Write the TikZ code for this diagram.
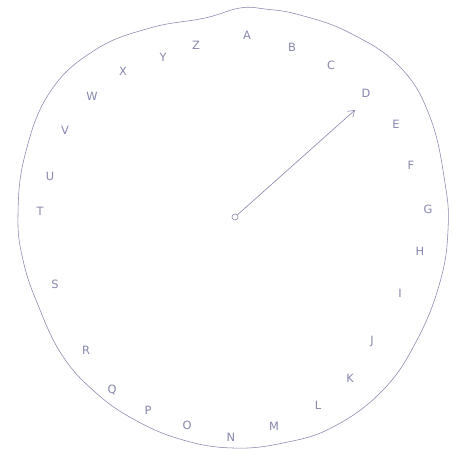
\documentclass[tikz,border=0pt]{standalone}
\usepackage{fontspec}
\setmainfont{DejaVu Sans}[Scale=0.95]
\usetikzlibrary{arrows.meta}
\definecolor{pencil}{RGB}{135,135,175}
\tikzset{
  letter/.style={text=pencil, font=\fontsize{12}{12}\selectfont, inner sep=0pt},
  rim/.style={draw=pencil, line width=0.55pt},
  pointer/.style={draw=pencil, line width=0.6pt, -{Straight Barb[length=6pt,width=8pt]}}
}
\begin{document}
\begin{tikzpicture}[x=1pt,y=-1pt]
\useasboundingbox (0,0) rectangle (470,465);
\fill[white] (0,0) rectangle (470,465);
\draw[rim] plot[smooth cycle, tension=0.7] coordinates {
 (240,8) (265,9) (300,15) (350,33) (400,67) (430,117) (445,183)
 (448,230) (440,282) (417,340) (383,390) (333,427) (283,443) (233,448)
 (183,440) (135,420) (95,392) (62,355) (38,305) (23,260) (18,215)
 (25,155) (50,92) (95,50) (150,28) (205,18)};
\node[letter] (A) at (247,35) {A};
\node[letter] (B) at (292,47) {B};
\node[letter] (C) at (331,65) {C};
\node[letter] (D) at (366,93) {D};
\node[letter] (E) at (396,124) {E};
\node[letter] (F) at (411,165) {F};
\node[letter] (G) at (428,209) {G};
\node[letter] (H) at (420,251) {H};
\node[letter] (I) at (400,293) {I};
\node[letter] (J) at (372,341) {J};
\node[letter] (K) at (350,378) {K};
\node[letter] (L) at (318,405) {L};
\node[letter] (M) at (274,426) {M};
\node[letter] (N) at (231,437) {N};
\node[letter] (O) at (187,425) {O};
\node[letter] (P) at (148,410) {P};
\node[letter] (Q) at (112,390) {Q};
\node[letter] (R) at (86,350) {R};
\node[letter] (S) at (55,284) {S};
\node[letter] (T) at (40,211) {T};
\node[letter] (U) at (50,176) {U};
\node[letter] (V) at (65,130) {V};
\node[letter] (W) at (92,96) {W};
\node[letter] (X) at (123,71) {X};
\node[letter] (Y) at (163,57) {Y};
\node[letter] (Z) at (196,45) {Z};
\node[draw=pencil, line width=0.6pt, circle, minimum size=6pt, inner sep=0pt] (hub) at (235,217) {};
\coordinate (tip) at (355,110);
\draw[pointer] (hub) -- (tip);
\end{tikzpicture}
\end{document}
